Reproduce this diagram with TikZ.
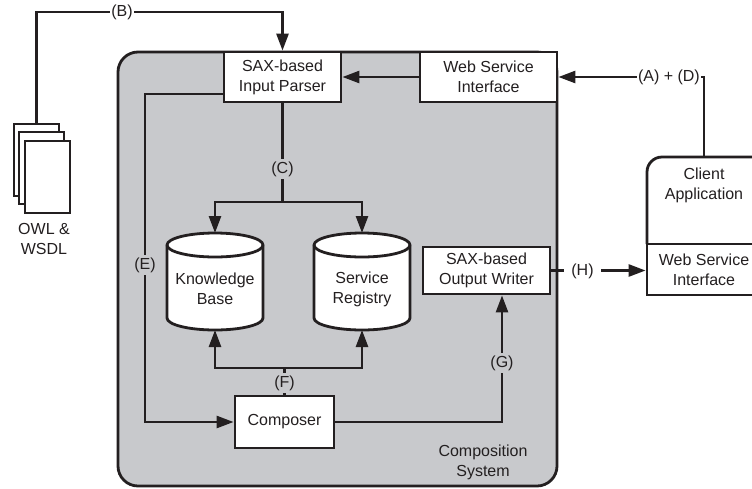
\documentclass[tikz,border=0pt]{standalone}
\usepackage{fontspec}
\setmainfont{Liberation Sans}
\usetikzlibrary{arrows.meta}
\definecolor{panel}{RGB}{200,201,204}
\definecolor{ink}{RGB}{35,31,32}
\begin{document}
\begin{tikzpicture}[x=1pt,y=-1pt,color=ink,
  txt/.style={align=center, inner sep=0pt, font=\fontsize{16}{20}\selectfont},
  box/.style={txt, draw, fill=white, line width=2.8pt},
  doc/.style={draw, fill=white, line width=2.6pt, minimum width=45pt, minimum height=72pt, inner sep=0pt},
  cyl/.style={draw, fill=white, line width=2.8pt},
  conn/.style={line width=2.6pt},
  arr/.style={conn, -{Triangle[length=17pt,width=12pt]}},
  lab/.style={txt, inner xsep=1.5pt, inner ysep=3pt, fill=panel},
  wlab/.style={lab, inner ysep=1pt, fill=white}]
\clip (0,0) rectangle (752,488);
\fill[white] (0,0) rectangle (752,488);
% composition system panel
\draw[fill=panel, line width=2.8pt, rounded corners=20pt] (118,52) rectangle (557,486);
% boxes
\node[box, minimum width=117pt, minimum height=50pt] (parser) at (282.5,77) {SAX-based\\Input Parser};
\node[box, minimum width=137pt, minimum height=50pt] (wsi) at (488.5,77) {Web Service\\Interface};
\node[box, minimum width=127pt, minimum height=47pt] (writer) at (486.5,270.5) {SAX-based\\Output Writer};
\node[box, minimum width=99pt, minimum height=52pt] (composer) at (284.5,422) {Composer};
% cylinders
\path[cyl] (167,245) -- (167,318) arc[start angle=180,end angle=360,x radius=48pt,y radius=12pt] -- (263,245) arc[start angle=0,end angle=180,x radius=48pt,y radius=12pt] -- cycle;
\draw[line width=2.8pt] (167,245) arc[start angle=180,end angle=360,x radius=48pt,y radius=12pt];
\path[cyl] (314,245) -- (314,318) arc[start angle=180,end angle=360,x radius=48pt,y radius=12pt] -- (410,245) arc[start angle=0,end angle=180,x radius=48pt,y radius=12pt] -- cycle;
\draw[line width=2.8pt] (314,245) arc[start angle=180,end angle=360,x radius=48pt,y radius=12pt];
\node[txt] (kb) at (215,289) {Knowledge\\Base};
\node[txt] (sr) at (362,289) {Service\\Registry};
\coordinate (kbtop) at (215,233);
\coordinate (kbbot) at (215,330);
\coordinate (srtop) at (362,233);
\coordinate (srbot) at (362,330);
% documents
\node[doc] (doc1) at (36.5,160) {};
\node[doc] (doc2) at (41.5,168) {};
\node[doc] (doc3) at (47.5,177) {};
\node[txt] (owl) at (44,238.5) {OWL \&\\WSDL};
% client application
\draw[line width=2.8pt, fill=white] (647,244) -- (647,172) arc[start angle=180,end angle=90,radius=15pt] -- (754,157) arc[start angle=90,end angle=0,radius=15pt] -- (769,244);
\node[txt] (client) at (704,185) {Client\\Application};
\node[box, minimum width=114pt, minimum height=51pt] (cwsi) at (704,269.5) {Web Service\\Interface};
\coordinate (clienttop) at (704,157);
% connectors
\coordinate (btop) at (36.5,12);
\draw[arr] (doc1.north) -- (btop) -| (parser.north);
\node[wlab] (lB) at (122,12) {(B)};
\coordinate (adcorner) at (704,77);
\draw[arr] (clienttop) -- (adcorner) -- (wsi.east);
\node[wlab, anchor=east] (lAD) at (701.5,77) {(A) + (D)};
\draw[arr] (wsi.west) -- (parser.east);
\coordinate (csplit) at (282.5,202);
\draw[conn] (parser.south) -- (csplit);
\draw[arr] (csplit) -| (kbtop);
\draw[arr] (csplit) -| (srtop);
\node[lab] (lC) at (282.5,169) {(C)};
\coordinate (ecorner) at (145,422);
\draw[arr] ([yshift=-17pt]parser.west) -| (ecorner) -- (composer.west);
\node[lab] (lE) at (145,265) {(E)};
\coordinate (fsplit) at (284.5,368);
\draw[conn] (composer.north) -- (fsplit);
\draw[arr] (fsplit) -| (kbbot);
\draw[arr] (fsplit) -| (srbot);
\node[lab] (lF) at (284.5,383) {(F)};
\coordinate (gcorner) at (502,422);
\draw[arr] (composer.east) -- (gcorner) -- (writer.south -| gcorner);
\node[lab] (lG) at (502,363) {(G)};
\draw[arr] (writer.east) -- (writer.east -| cwsi.west);
\node[wlab, inner xsep=7pt] (lH) at (582.5,271) {(H)};
\node[txt] (cs) at (483,462.5) {Composition\\System};
\end{tikzpicture}
\end{document}
